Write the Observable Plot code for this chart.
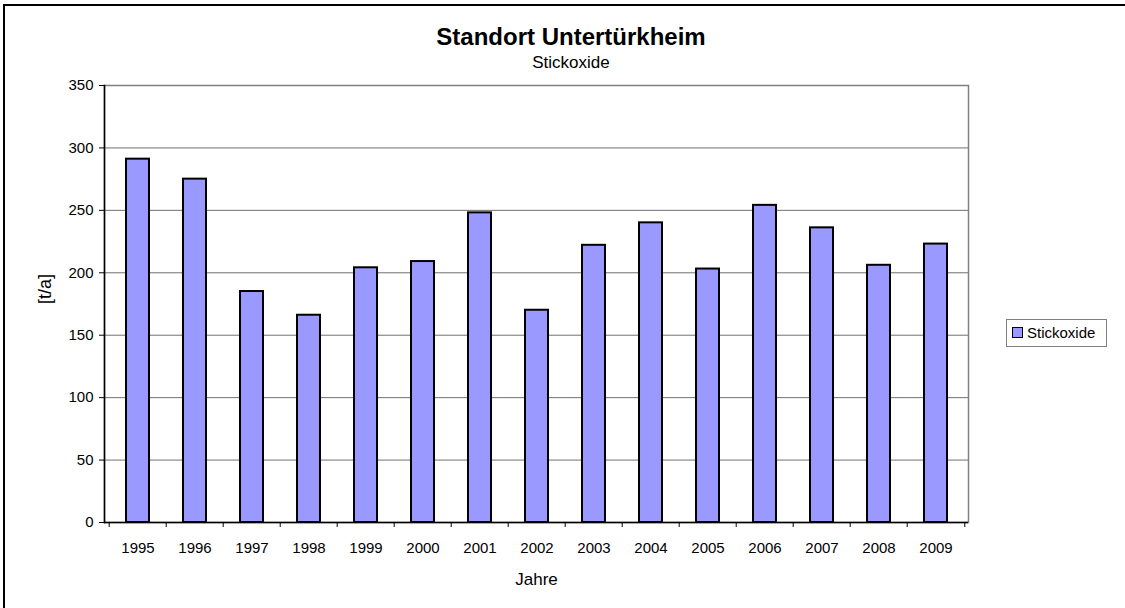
<!DOCTYPE html>
<html><head><meta charset="utf-8">
<script src="https://cdn.jsdelivr.net/npm/d3@7"></script>
<script src="https://cdn.jsdelivr.net/npm/@observablehq/plot@0.6"></script>
<style>
html,body{margin:0;padding:0;background:#fff;}
#wrap{position:relative;width:1125px;height:608px;overflow:hidden;font-family:"Liberation Sans",Arial,sans-serif;color:#000;}
#border{position:absolute;left:3px;top:4px;width:1300px;height:800px;border-left:2px solid #000;border-top:2px solid #000;}
#chart{position:absolute;left:0;top:0;}
#title{position:absolute;left:0;width:1142px;top:23px;text-align:center;font-weight:bold;font-size:24px;line-height:28px;}
#subtitle{position:absolute;left:0;width:1142px;top:53px;text-align:center;font-size:17px;line-height:20px;}
#legend{position:absolute;left:1006px;top:319px;width:101px;height:28px;border:1.5px solid #808080;box-sizing:border-box;font-size:15px;}
#swatch{position:absolute;left:5px;top:7px;width:11px;height:11px;border:1.5px solid #000;box-sizing:border-box;}
#legtext{position:absolute;left:20px;top:4px;line-height:17px;}
</style>
</head><body>
<div id="wrap">
  <div id="border"></div>
  <div id="chart"></div>
  <div id="title"></div>
  <div id="subtitle"></div>
  <div id="legend"><div id="swatch"></div><div id="legtext"></div></div>
</div>
<script>
const chartTitle = "Standort Untertürkheim";
const chartSubtitle = "Stickoxide";
const seriesName = "Stickoxide";
const years = ["1995","1996","1997","1998","1999","2000","2001","2002","2003","2004","2005","2006","2007","2008","2009"];
const values = [291, 275, 185, 166, 204, 209, 248, 170, 222, 240, 203, 254, 236, 206, 223];
const yTicks = [0, 50, 100, 150, 200, 250, 300, 350];
const xLabel = "Jahre";
const yLabel = "[t/a]";
const barColor = "#9999FF";

document.getElementById("title").textContent = chartTitle;
document.getElementById("subtitle").textContent = chartSubtitle;
document.getElementById("legtext").textContent = seriesName;
document.getElementById("swatch").style.background = barColor;

const W = 1125, H = 608, ml = 104, mr = 157, mt = 85, mb = 86;
const step = (W - ml - mr) / years.length;
const data = years.map((y, i) => ({year: y, value: values[i]}));
const font = '"Liberation Sans", Arial, sans-serif';

const chart = Plot.plot({
  width: W, height: H,
  marginLeft: ml, marginRight: mr, marginTop: mt, marginBottom: mb,
  style: {fontFamily: font, fontSize: "15px", color: "#000", background: "transparent"},
  x: {type: "band", domain: years, paddingInner: 0.6, paddingOuter: 0.3},
  y: {domain: [0, 350]},
  marks: [
    Plot.frame({stroke: "#808080", strokeWidth: 1.5}),
    Plot.gridY(yTicks.filter(t => t > 0 && t < 350), {stroke: "#707070", strokeOpacity: 1, strokeWidth: 1}),
    Plot.barY(data, {x: "year", y: "value", fill: barColor, stroke: "#000", strokeWidth: 2}),
    Plot.ruleY([0], {stroke: "#000", strokeWidth: 1.5}),
    Plot.frame({anchor: "left", stroke: "#000", strokeWidth: 1.5}),
    Plot.ruleX(years, {x: d => d, dx: -step / 2, y1: () => 0, y2: () => -4, stroke: "#000"}),
    Plot.ruleX([years[years.length - 1]], {x: d => d, dx: step / 2, y1: () => 0, y2: () => -4, stroke: "#000"}),
    Plot.axisY(yTicks, {tickSize: 5, tickPadding: 6, fontSize: 15, label: null}),
    Plot.text([yLabel], {frameAnchor: "left", dx: -59, rotate: -90, fontSize: 18, text: d => d}),
    Plot.axisX({tickSize: 0, tickPadding: 20, fontSize: 15, label: null}),
    Plot.text([xLabel], {frameAnchor: "bottom", dy: 62, fontSize: 17, text: d => d})
  ]
});
document.getElementById("chart").appendChild(chart);
</script>
</body></html>
